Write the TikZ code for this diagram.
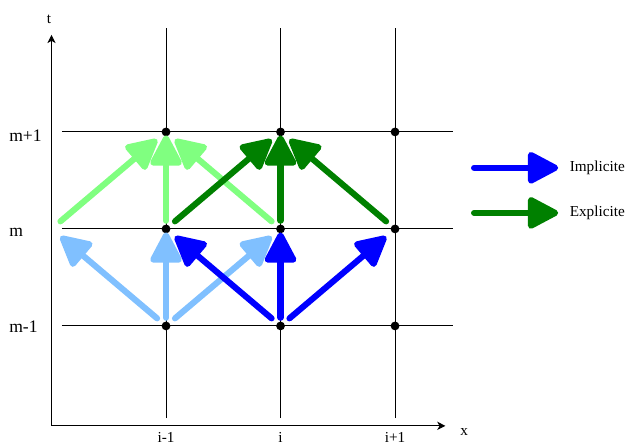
\documentclass[tikz,border=0pt]{standalone}
\usepackage{fontspec}
\setmainfont{Liberation Serif}
\usetikzlibrary{arrows.meta}
\definecolor{LightGreen}{HTML}{80FF80}
\definecolor{DarkGreen}{HTML}{008000}
\definecolor{LightBlue}{HTML}{80C0FF}
\definecolor{DeepBlue}{HTML}{0000FF}

\tikzset{
  gridline/.style={line width=0.8pt},
  axisline/.style={line width=0.8pt,-{Stealth[length=7pt,width=7pt,inset=2pt]}},
  meshpt/.style={circle,fill,inner sep=0pt,minimum size=7.5pt},
  stencil/.style={line width=5.2pt,line cap=round,-{Triangle[length=29pt,width=29pt,round]}},
  diag/.style={stencil,shorten <=10pt,shorten >=10pt},
  vert/.style={stencil,shorten <=7pt,shorten >=3pt},
  lbl/.style={font=\fontsize{13}{15}\selectfont},
  rowlbl/.style={font=\fontsize{15}{18}\selectfont,anchor=base west},
}

\begin{document}
\begin{tikzpicture}[x=3.435cm,y=2.91cm]
  \useasboundingbox (-0.45,-0.237) rectangle (5.017,4.36);

  % axes
  \draw[axisline] (0,-0.03) -- (0,4.0);
  \draw[axisline] (0,-0.03) -- (3.44,-0.03);
  \node[lbl,anchor=base] (tlab) at (-0.022,4.113) {t};
  \node[lbl,anchor=base] (xlab) at (3.603,-0.134) {x};

  % mesh
  \foreach \c in {1,2,3}
    \draw[gridline] (\c,0.05) -- (\c,4.07);
  \foreach \r in {1,2,3}
    \draw[gridline] (0.09,\r) -- (3.51,\r);
  \foreach \c in {0,1,2,3}
    \foreach \r in {1,2,3}
      \coordinate (p-\c-\r) at (\c,\r);
  \foreach \c in {1,2,3}
    \foreach \r in {1,2,3}
      \node[meshpt] (d-\c-\r) at (p-\c-\r) {};

  \foreach \c/\txt in {1/i-1,2/i,3/i+1}
    \node[lbl,anchor=base] (col-\c) at (\c,-0.2) {\txt};
  \foreach \r/\dy/\txt in {1/0.072/m-1,2/0.082/m,3/0.103/m+1}
    \node[rowlbl] (row-\r) at (-0.405,\r-\dy) {\txt};

  % explicit stencil
  \draw[diag,LightGreen] (p-0-2) -- (p-1-3);
  \draw[vert,LightGreen] (p-1-2) -- (p-1-3);
  \draw[diag,LightGreen] (p-2-2) -- (p-1-3);
  \draw[diag,DarkGreen] (p-1-2) -- (p-2-3);
  \draw[vert,DarkGreen] (p-2-2) -- (p-2-3);
  \draw[diag,DarkGreen] (p-3-2) -- (p-2-3);

  % implicit stencil
  \draw[diag,LightBlue] (p-1-1) -- (p-0-2);
  \draw[vert,LightBlue] (p-1-1) -- (p-1-2);
  \draw[diag,LightBlue] (p-1-1) -- (p-2-2);
  \draw[diag,DeepBlue] (p-2-1) -- (p-1-2);
  \draw[vert,DeepBlue] (p-2-1) -- (p-2-2);
  \draw[diag,DeepBlue] (p-2-1) -- (p-3-2);

  % legend
  \coordinate (impl-tail) at (3.69,2.63);
  \coordinate (expl-tail) at (3.69,2.165);
  \node[lbl,anchor=west] (impl) at (4.49,2.63) {Implicite};
  \node[lbl,anchor=west] (expl) at (4.49,2.165) {Explicite};
  \draw[stencil,DeepBlue,shorten >=6.4pt] (impl-tail) -- (impl.west);
  \draw[stencil,DarkGreen,shorten >=6.4pt] (expl-tail) -- (expl.west);
\end{tikzpicture}
\end{document}
